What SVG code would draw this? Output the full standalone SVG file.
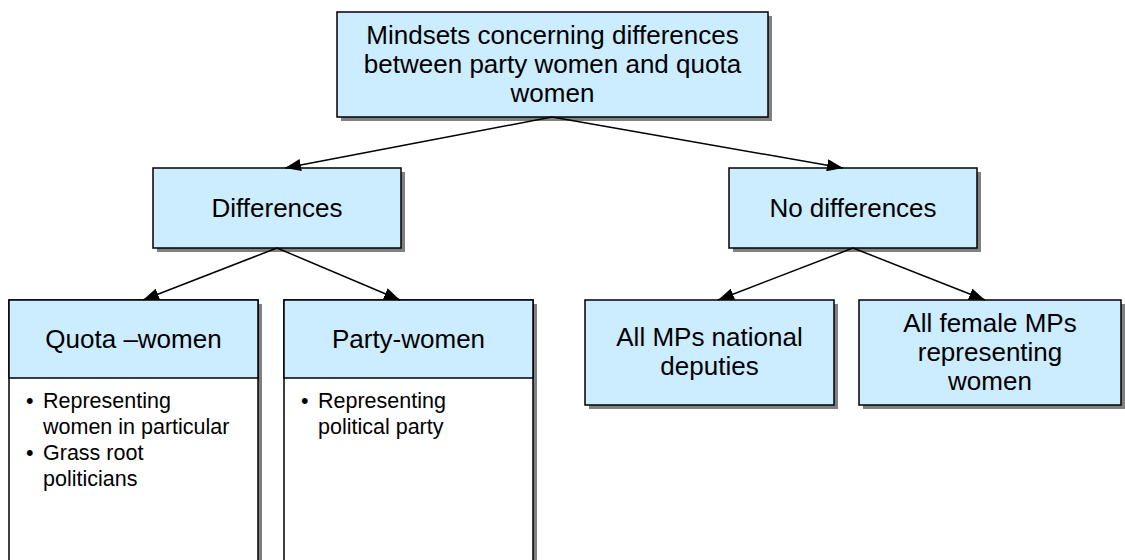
<svg xmlns="http://www.w3.org/2000/svg" width="1125" height="560" viewBox="0 0 1125 560">
<defs>
<style>
.sh{fill:#808080;stroke:none}
.bx{fill:#CCECFF;stroke:#000;stroke-width:1.5}
.wb{fill:#FFFFFF;stroke:#000;stroke-width:1.5}
.t{font-family:"Liberation Sans",Arial,sans-serif;font-size:26px;fill:#000;text-anchor:middle}
.b{font-family:"Liberation Sans",Arial,sans-serif;font-size:21.5px;fill:#000}
.ln{stroke:#000;stroke-width:1.5;fill:none;marker-end:url(#ah)}
</style>
<marker id="ah" viewBox="0 0 16 12" refX="16" refY="6" markerWidth="16" markerHeight="12" markerUnits="userSpaceOnUse" orient="auto">
<path d="M0,0 L16,6 L0,12 Z" fill="#000"/>
</marker>
</defs>
<rect width="1125" height="560" fill="#fff"/>
<g id="root">
<rect class="sh" x="341" y="16" width="431" height="105"/>
<rect class="bx" x="337" y="12" width="431" height="105"/>
<text class="t" x="552.5" y="44">Mindsets concerning differences</text>
<text class="t" x="552.5" y="73">between party women and quota</text>
<text class="t" x="552.5" y="102">women</text>
</g>
<g id="differences">
<rect class="sh" x="157" y="172" width="248" height="80"/>
<rect class="bx" x="153" y="168" width="248" height="80"/>
<text class="t" x="277" y="217">Differences</text>
</g>
<g id="no-differences">
<rect class="sh" x="733" y="172" width="248" height="80"/>
<rect class="bx" x="729" y="168" width="248" height="80"/>
<text class="t" x="853" y="217">No differences</text>
</g>
<g id="quota-women">
<rect class="sh" x="13" y="304" width="249" height="270"/>
<rect class="wb" x="9" y="300" width="249" height="270"/>
<rect class="bx" x="9" y="300" width="249" height="78"/>
<text class="t" x="133.5" y="348">Quota –women</text>
<text class="b" x="26" y="408">•</text>
<text class="b" x="43" y="408">Representing</text>
<text class="b" x="43" y="434">women in particular</text>
<text class="b" x="26" y="460">•</text>
<text class="b" x="43" y="460">Grass root</text>
<text class="b" x="43" y="486">politicians</text>
</g>
<g id="party-women">
<rect class="sh" x="288" y="304" width="249" height="270"/>
<rect class="wb" x="284" y="300" width="249" height="270"/>
<rect class="bx" x="284" y="300" width="249" height="78"/>
<text class="t" x="408.5" y="348">Party-women</text>
<text class="b" x="301" y="408">•</text>
<text class="b" x="318" y="408">Representing</text>
<text class="b" x="318" y="434">political party</text>
</g>
<g id="all-mps">
<rect class="sh" x="589" y="304" width="249" height="105"/>
<rect class="bx" x="585" y="300" width="249" height="105"/>
<text class="t" x="709.5" y="346">All MPs national</text>
<text class="t" x="709.5" y="375">deputies</text>
</g>
<g id="female-mps">
<rect class="sh" x="863" y="304" width="262" height="105"/>
<rect class="bx" x="859" y="300" width="262" height="105"/>
<text class="t" x="990" y="332">All female MPs</text>
<text class="t" x="990" y="361">representing</text>
<text class="t" x="990" y="390">women</text>
</g>
<g id="connectors">
<line class="ln" x1="552" y1="117" x2="285" y2="168"/>
<line class="ln" x1="552" y1="117" x2="843" y2="168"/>
<line class="ln" x1="277" y1="248" x2="143" y2="300"/>
<line class="ln" x1="277" y1="248" x2="400" y2="300"/>
<line class="ln" x1="853" y1="248" x2="718" y2="300"/>
<line class="ln" x1="853" y1="248" x2="985" y2="300"/>
</g>
</svg>
